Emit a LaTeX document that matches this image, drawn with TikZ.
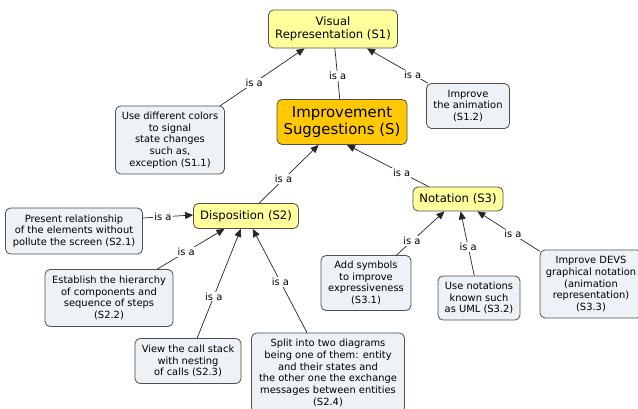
\documentclass[tikz,border=0pt]{standalone}
\usepackage{fontspec}
\setmainfont{DejaVu Sans}
\usetikzlibrary{arrows.meta, calc, positioning}
\definecolor{color1}{RGB}{255,255,156}
\definecolor{color2}{RGB}{255,200,0}
\definecolor{color3}{RGB}{236,242,245}
\definecolor{color4}{RGB}{80,80,80}
\tikzset{
  concept/.style={draw=color4, fill=color1, rounded corners=5pt, align=center,
    font=\fontsize{11.6}{13.2}\selectfont, inner sep=2pt, line width=0.8pt},
  mainconcept/.style={concept, fill=color2, font=\fontsize{14.9}{17}\selectfont},
  leaf/.style={concept, fill=color3, font=\fontsize{9.9}{11.7}\selectfont},
  link/.style={draw=black!85, line width=0.7pt},
  isa/.style={link, -{Triangle[length=8pt,width=7pt]}},
  isalabel/.style={fill=white, inner sep=1pt, font=\fontsize{9.9}{11}\selectfont}
}

\begin{document}
\begin{tikzpicture}[x=1pt, y=-1pt, line cap=round]
                \useasboundingbox (0,0) rectangle (638,409);

                % concepts
                \node[concept, minimum width=129pt, minimum height=38pt] (s1) at (333,29) {Visual\\Representation (S1)};
                \node[mainconcept, minimum width=130pt, minimum height=45pt] (s) at (342,122) {Improvement\\Suggestions (S)};
                \node[concept, minimum width=105pt, minimum height=25pt] (s2) at (246,216) {Disposition (S2)};
                \node[concept, minimum width=90pt, minimum height=24pt] (s3) at (458,199) {Notation (S3)};

                % suggestions
                \node[leaf, minimum width=109pt, minimum height=68pt] (s11) at (170,140) {Use different colors\\to signal\\state changes\\such as,\\exception (S1.1)};
                \node[leaf, minimum width=83pt, minimum height=45pt] (s12) at (468,106) {Improve\\the animation\\(S1.2)};
                \node[leaf, minimum width=137pt, minimum height=46pt] (s21) at (74,231) {Present relationship\\of the elements without\\pollute the screen (S2.1)};
                \node[leaf, minimum width=128pt, minimum height=57pt] (s22) at (109,298) {Establish the hierarchy\\of components and\\sequence of steps\\(S2.2)};
                \node[leaf, minimum width=106pt, minimum height=45pt] (s23) at (188,361) {View the call stack\\with nesting\\of calls (S2.3)};
                \node[leaf, minimum width=153pt, minimum height=80pt] (s24) at (328,373) {Split into two diagrams\\being one of them: entity\\and their states and\\the other one the exchange\\messages between entities\\(S2.4)};
                \node[leaf, minimum width=90pt, minimum height=55pt] (s31) at (366,283) {Add symbols\\to improve\\expressiveness\\(S3.1)};
                \node[leaf, minimum width=82pt, minimum height=44pt] (s32) at (479,298) {Use notations\\known such\\as UML (S3.2)};
                \node[leaf, minimum width=102pt, minimum height=68pt] (s33) at (591,284) {Improve DEVS\\graphical notation\\(animation\\representation)\\(S3.3)};

                % links
                \draw[isa] (s11) -- node[isalabel, pos=0.4] {is a} (s1);
                \draw[link] (s) -- node[isalabel, pos=0.45] {is a} (s1);
                \draw[isa] (s12) -- node[isalabel, pos=0.25] {is a} (s1);
                \draw[isa] (s2) -- node[isalabel, pos=0.41] {is a} (s);
                \draw[isa] ($(s3.north west)+(16,0)$) -- node[isalabel, pos=0.33] {is a} ($(s.south)+(5,0)$);
                \draw[isa] ($(s21.east)+(0,-13)$) -- node[isalabel, pos=0.4] {is a} ($(s2.west)+(0,-1)$);
                \draw[isa] (s22) -- node[isalabel, pos=0.43] {is a} (s2);
                \draw[isa] (s23) -- node[isalabel, pos=0.38] {is a} (s2);
                \draw[isa] (s24) -- node[isalabel, pos=0.49] {is a} (s2);
                \draw[isa] (s31) -- node[isalabel, pos=0.32] {is a} (s3);
                \draw[isa] (s32) -- node[isalabel, pos=0.45] {is a} (s3);
                \draw[isa] (s33) -- node[isalabel, pos=0.43] {is a} (s3);
            \end{tikzpicture}
\end{document}
